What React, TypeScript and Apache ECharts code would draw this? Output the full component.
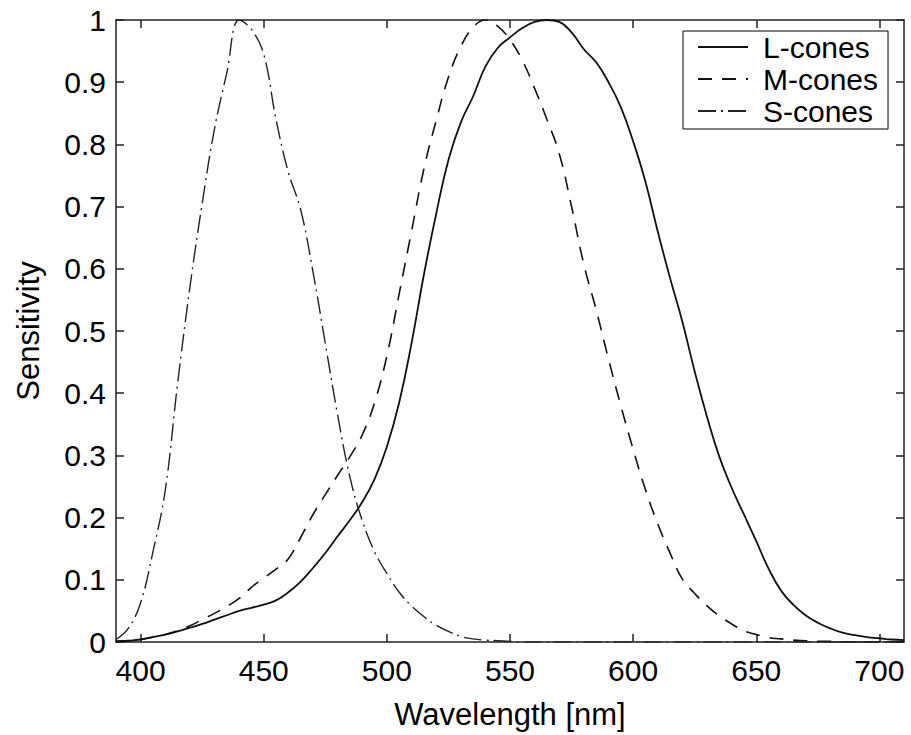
import React, { useEffect, useRef } from 'react';
import * as echarts from 'echarts';

// Wavelength samples (nm)
const wavelengths = [
  390, 395, 400, 405, 410, 415, 420, 425, 430, 435,
  440, 445, 450, 455, 460, 465, 470, 475, 480, 485,
  490, 495, 500, 505, 510, 515, 520, 525, 530, 535,
  540, 545, 550, 555, 560, 565, 570, 575, 580, 585,
  590, 595, 600, 605, 610, 615, 620, 625, 630, 635,
  640, 645, 650, 655, 660, 665, 670, 675, 680, 685,
  690, 695, 700, 705, 710,
];

const lCones = [
  0.001, 0.002, 0.004, 0.008, 0.012, 0.017, 0.023, 0.029, 0.036, 0.043,
  0.050, 0.055, 0.060, 0.067, 0.080, 0.097, 0.119, 0.143, 0.170, 0.196,
  0.225, 0.262, 0.314, 0.385, 0.480, 0.590, 0.688, 0.775, 0.835, 0.877,
  0.925, 0.955, 0.972, 0.987, 0.997, 1.000, 0.997, 0.980, 0.953, 0.932,
  0.900, 0.860, 0.805, 0.740, 0.660, 0.585, 0.515, 0.435, 0.362, 0.298,
  0.248, 0.205, 0.162, 0.118, 0.083, 0.060, 0.043, 0.031, 0.022, 0.015,
  0.011, 0.008, 0.006, 0.004, 0.003,
];

const mCones = [
  0.001, 0.002, 0.004, 0.008, 0.012, 0.018, 0.026, 0.036, 0.046, 0.057,
  0.070, 0.088, 0.103, 0.117, 0.134, 0.168, 0.205, 0.237, 0.268, 0.298,
  0.333, 0.385, 0.460, 0.560, 0.660, 0.760, 0.838, 0.908, 0.957, 0.988,
  1.000, 0.990, 0.968, 0.935, 0.890, 0.840, 0.785, 0.700, 0.607, 0.534,
  0.455, 0.380, 0.310, 0.245, 0.190, 0.143, 0.101, 0.078, 0.058, 0.042,
  0.029, 0.018, 0.012, 0.007, 0.005, 0.003, 0.002, 0.001, 0.001, 0.000,
  0.000, 0.000, 0.000, 0.000, 0.000,
];

const sCones = [
  0.004, 0.022, 0.063, 0.145, 0.244, 0.415, 0.570, 0.705, 0.825, 0.915,
  1.000, 0.985, 0.945, 0.840, 0.755, 0.695, 0.595, 0.480, 0.365, 0.265,
  0.195, 0.145, 0.110, 0.080, 0.058, 0.041, 0.027, 0.017, 0.009, 0.005,
  0.003, 0.002, 0.001, 0.000, 0.000, 0.000, 0.000, 0.000, 0.000, 0.000,
  0.000, 0.000, 0.000, 0.000, 0.000, 0.000, 0.000, 0.000, 0.000, 0.000,
  0.000, 0.000, 0.000, 0.000, 0.000, 0.000, 0.000, 0.000, 0.000, 0.000,
  0.000, 0.000, 0.000, 0.000, 0.000,
];

const xTicks = [400, 450, 500, 550, 600, 650, 700];
const seriesNames = ['L-cones', 'M-cones', 'S-cones'];
const xTitle = 'Wavelength [nm]';
const yTitle = 'Sensitivity';

export default function App() {
  const ref = useRef<HTMLDivElement>(null);

  useEffect(() => {
    if (!ref.current) return;
    const chart = echarts.init(ref.current, null, { renderer: 'svg' });
    const font = '"Liberation Sans", Arial, Helvetica, sans-serif';
    const axisColor = '#222';
    const pair = (arr: number[]) => wavelengths.map((w, i) => [w, arr[i]]);

    const axisLine = { show: true, onZero: false, lineStyle: { color: axisColor, width: 1.5 } };
    const tickStyle = { color: axisColor, width: 1.5 };

    const xBase = {
      type: 'value' as const,
      min: 390,
      max: 710,
      axisLine,
      splitLine: { show: false },
    };
    const yBase = {
      type: 'value' as const,
      min: 0,
      max: 1,
      interval: 0.1,
      axisLine,
      splitLine: { show: false },
    };

    chart.setOption({
      animation: false,
      backgroundColor: '#fff',
      textStyle: { fontFamily: font },
      grid: { left: 116, top: 20, width: 788, height: 622, containLabel: false, outerBoundsMode: 'none' },
      legend: {
        data: seriesNames,
        orient: 'vertical',
        left: 683,
        top: 31,
        itemWidth: 50,
        itemHeight: 14,
        itemGap: 2,
        padding: [1, 10, 3, 14],
        borderColor: '#000',
        borderWidth: 1,
        backgroundColor: '#fff',
        itemStyle: { opacity: 0, borderWidth: 0 },
        textStyle: {
          fontFamily: font,
          fontSize: 30,
          lineHeight: 29,
          color: '#000',
          padding: [0, 0, 0, 10],
        },
      },
      xAxis: [
        {
          ...xBase,
          position: 'bottom',
          name: xTitle,
          nameLocation: 'middle',
          nameGap: 57,
          nameTextStyle: { fontFamily: font, fontSize: 31, color: '#000' },
          axisTick: { show: true, inside: true, length: 8, customValues: xTicks, lineStyle: tickStyle },
          axisLabel: {
            show: true,
            customValues: xTicks,
            margin: 13,
            fontFamily: font,
            fontSize: 30,
            color: '#000',
          },
        },
        {
          ...xBase,
          position: 'top',
          axisTick: { show: true, inside: true, length: 8, customValues: xTicks, lineStyle: tickStyle },
          axisLabel: { show: false },
        },
      ],
      yAxis: [
        {
          ...yBase,
          position: 'left',
          name: yTitle,
          nameLocation: 'middle',
          nameGap: 72,
          nameTextStyle: { fontFamily: font, fontSize: 31, color: '#000' },
          axisTick: { show: true, inside: true, length: 8, lineStyle: tickStyle },
          axisLabel: {
            show: true,
            margin: 10,
            fontFamily: font,
            fontSize: 30,
            color: '#000',
            formatter: (v: number) => (v === 0 ? '0' : v === 1 ? '1' : v.toFixed(1)),
          },
        },
        {
          ...yBase,
          position: 'right',
          axisTick: { show: true, inside: true, length: 8, lineStyle: tickStyle },
          axisLabel: { show: false },
        },
      ],
      series: [
        {
          name: seriesNames[0],
          type: 'line',
          data: pair(lCones),
          symbol: 'none',
          smooth: 0.45,
          lineStyle: { color: '#111', width: 1.8, type: 'solid' },
          itemStyle: { color: '#111' },
        },
        {
          name: seriesNames[1],
          type: 'line',
          data: pair(mCones),
          symbol: 'none',
          smooth: 0.45,
          lineStyle: { color: '#111', width: 1.6, type: [14, 10] },
          itemStyle: { color: '#111' },
        },
        {
          name: seriesNames[2],
          type: 'line',
          data: pair(sCones),
          symbol: 'none',
          smooth: 0.4,
          lineStyle: { color: '#222', width: 1.4, type: [18, 5, 2, 5] },
          itemStyle: { color: '#222' },
        },
      ],
    });

    return () => chart.dispose();
  }, []);

  return (
    <div
      ref={ref}
      style={{ position: 'absolute', left: 0, top: 0, width: 911, height: 735, background: '#fff' }}
    />
  );
}
